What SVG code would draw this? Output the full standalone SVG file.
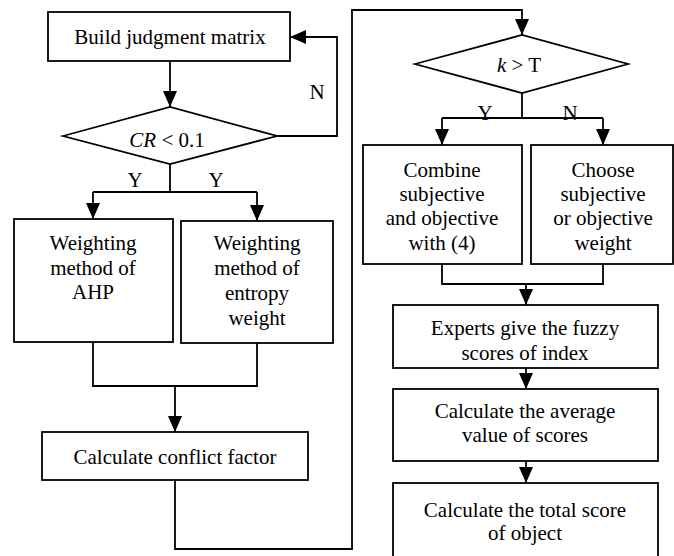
<svg xmlns="http://www.w3.org/2000/svg" width="674" height="556" viewBox="0 0 674 556" font-family="'Liberation Serif', Tinos, 'Times New Roman', 'DejaVu Serif', serif">
<style>
.box{fill:#fff;stroke:#000;stroke-width:1.8}
.ln{fill:none;stroke:#000;stroke-width:1.8}
text{font-family:'Liberation Serif', Tinos, 'Times New Roman', 'DejaVu Serif', serif;font-size:21px;fill:#000;text-anchor:middle}
.it{font-style:italic}
</style>
<defs>
<marker id="ah" markerUnits="userSpaceOnUse" markerWidth="16" markerHeight="16" viewBox="0 0 16 14" refX="16" refY="7" orient="auto">
<path d="M0,0 L16,7 L0,14 Z" fill="#000"/>
</marker>
</defs>
<rect width="674" height="556" fill="#fff"/>
<g id="connectors">
<path class="ln" d="M170,61 V107" marker-end="url(#ah)"/>
<path class="ln" d="M277,136 H337 V37 H290" marker-end="url(#ah)"/>
<path class="ln" d="M170,164 V192 M93,192 H257"/>
<path class="ln" d="M93,192 V219" marker-end="url(#ah)"/>
<path class="ln" d="M257,192 V221" marker-end="url(#ah)"/>
<path class="ln" d="M93,342 V386 H257 V343"/>
<path class="ln" d="M175,386 V432" marker-end="url(#ah)"/>
<path class="ln" d="M175,480 V549 H352 V10 H522 V35" marker-end="url(#ah)"/>
<path class="ln" d="M522,93 V118 M442,118 H603"/>
<path class="ln" d="M442,118 V145" marker-end="url(#ah)"/>
<path class="ln" d="M603,118 V145" marker-end="url(#ah)"/>
<path class="ln" d="M442,264 V284 H603 V264"/>
<path class="ln" d="M526,284 V305" marker-end="url(#ah)"/>
<path class="ln" d="M526,368 V389" marker-end="url(#ah)"/>
<path class="ln" d="M526,461 V483" marker-end="url(#ah)"/>
<text x="317" y="99">N</text>
<text x="135" y="187">Y</text>
<text x="216" y="187">Y</text>
<text x="485" y="120">Y</text>
<text x="570" y="120">N</text>
</g>
<g id="build">
<rect class="box" x="48" y="12" width="242" height="49"/>
<text x="170" y="44">Build judgment matrix</text>
</g>
<g id="cr">
<path class="box" d="M63,136 L170,107 L277,136 L170,164 Z"/>
<text x="167" y="147"><tspan class="it">CR</tspan> &lt; 0.1</text>
</g>
<g id="ahp">
<rect class="box" x="14" y="219" width="159" height="123"/>
<text x="93" y="250">Weighting</text>
<text x="93" y="275">method of</text>
<text x="93" y="299">AHP</text>
</g>
<g id="entropy">
<rect class="box" x="181" y="221" width="152" height="122"/>
<text x="257" y="250">Weighting</text>
<text x="257" y="275">method of</text>
<text x="257" y="300">entropy</text>
<text x="257" y="325">weight</text>
</g>
<g id="conflict">
<rect class="box" x="42" y="432" width="266" height="48"/>
<text x="175" y="464">Calculate conflict factor</text>
</g>
<g id="kt">
<path class="box" d="M415,64 L522,35 L628,64 L522,93 Z"/>
<text x="519" y="72"><tspan class="it">k</tspan>  &gt; T</text>
</g>
<g id="combine">
<rect class="box" x="363" y="145" width="159" height="119"/>
<text x="442" y="177">Combine</text>
<text x="442" y="201">subjective</text>
<text x="442" y="225">and objective</text>
<text x="442" y="250">with (4)</text>
</g>
<g id="choose">
<rect class="box" x="531" y="145" width="142" height="119"/>
<text x="603" y="177">Choose</text>
<text x="603" y="201">subjective</text>
<text x="603" y="225">or objective</text>
<text x="603" y="250">weight</text>
</g>
<g id="experts">
<rect class="box" x="393" y="305" width="265" height="63"/>
<text x="525" y="335">Experts give the fuzzy</text>
<text x="525" y="360">scores of index</text>
</g>
<g id="average">
<rect class="box" x="393" y="389" width="265" height="72"/>
<text x="525" y="418">Calculate the average</text>
<text x="525" y="442">value of scores</text>
</g>
<g id="total">
<rect class="box" x="393" y="483" width="265" height="80"/>
<text x="525" y="517">Calculate the total score</text>
<text x="525" y="540">of object</text>
</g>
</svg>
